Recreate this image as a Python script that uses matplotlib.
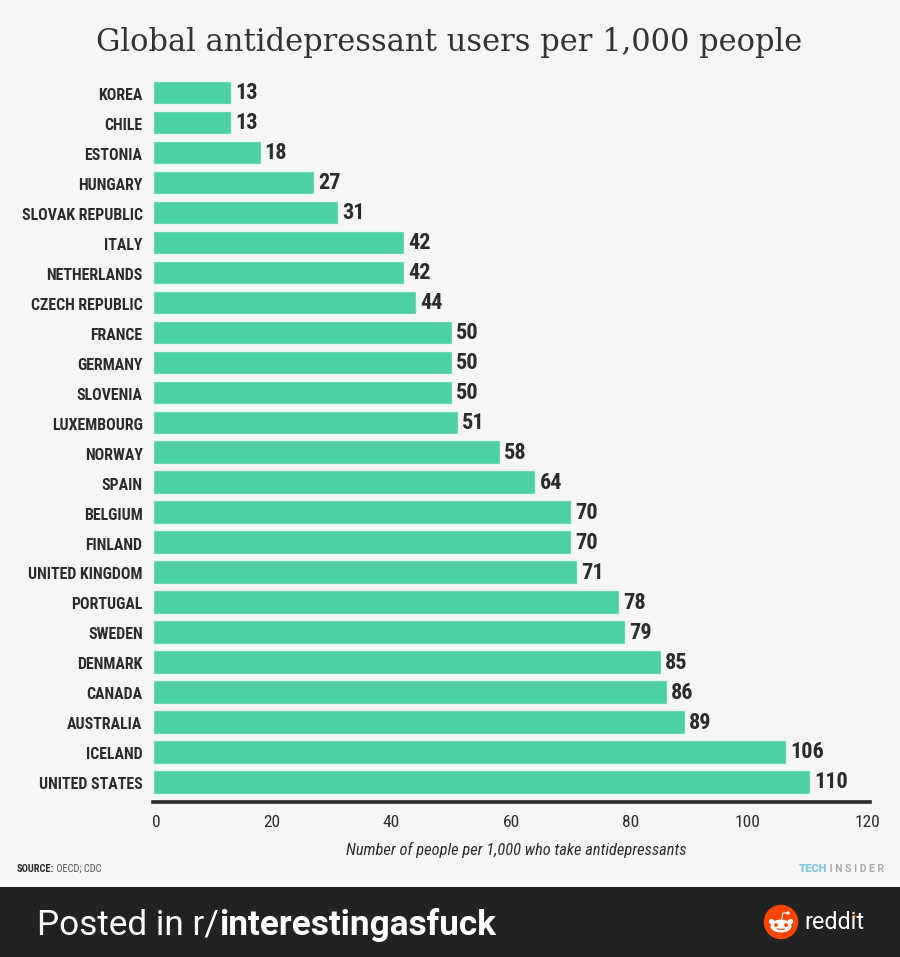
import matplotlib
matplotlib.use('Agg')
import matplotlib.pyplot as plt
from matplotlib import font_manager
from matplotlib.patches import Arc, Circle, Ellipse, Rectangle
from matplotlib.transforms import ScaledTranslation

countries = ['KOREA', 'CHILE', 'ESTONIA', 'HUNGARY', 'SLOVAK REPUBLIC', 'ITALY',
             'NETHERLANDS', 'CZECH REPUBLIC', 'FRANCE', 'GERMANY', 'SLOVENIA',
             'LUXEMBOURG', 'NORWAY', 'SPAIN', 'BELGIUM', 'FINLAND', 'UNITED KINGDOM',
             'PORTUGAL', 'SWEDEN', 'DENMARK', 'CANADA', 'AUSTRALIA', 'ICELAND',
             'UNITED STATES']
users = [13, 13, 18, 27, 31, 42, 42, 44, 50, 50, 50, 51, 58, 64, 70, 70, 71, 78,
         79, 85, 86, 89, 106, 110]
x_ticks = [0, 20, 40, 60, 80, 100, 120]

W, H = 900, 957
BG = '#f6f6f6'
BAR = '#4dd0a6'
DARK = '#2b2b2b'
BAND = '#222222'

installed = {f.name for f in font_manager.fontManager.ttflist}


def pick(*names):
    for name in names:
        if name in installed:
            return name
    return 'DejaVu Sans'


NARROW = pick('Roboto Condensed', 'Liberation Sans Narrow', 'Roboto')
SLAB = pick('Roboto Slab', 'DejaVu Serif')

fig = plt.figure(figsize=(W / 100, H / 100), dpi=100, facecolor=BG)

# pixel positions from the reference: x=0 at 153, axis end at 870, axis line at 802
ax = fig.add_axes([153 / W, 1 - 802 / H, (870 - 153) / W, (802 - 77.5) / H])
ax.set_facecolor('none')
ypos = list(range(len(countries)))
ax.barh(ypos, users, height=0.78, color=BAR, edgecolor='#e6f7f1', linewidth=1.0, zorder=2)
ax.set_xlim(0, 120)
ax.set_ylim(23.67, -0.5)

for s in ['top', 'left', 'right']:
    ax.spines[s].set_visible(False)
ax.spines['bottom'].set_linewidth(2.6)
ax.spines['bottom'].set_color(DARK)

ax.set_yticks(ypos)
ax.set_yticklabels(countries, family=NARROW, fontweight='bold', fontsize=11.4, color=DARK)
ax.tick_params(axis='y', length=0, pad=7.5)
for lab in ax.get_yticklabels():
    lab.set_transform(lab.get_transform() + ScaledTranslation(0, -1 / 72, fig.dpi_scale_trans))

ax.set_xticks(x_ticks)
ax.set_xticklabels(x_ticks, family=NARROW, fontsize=12.5, color=DARK)
ax.tick_params(axis='x', length=0, pad=9.5)
for val, lab in zip(x_ticks, ax.get_xticklabels()):
    shift = {0: 3, 100: -3, 120: -3}.get(val, -0.5)
    lab.set_transform(lab.get_transform() + ScaledTranslation(shift / 100, 0, fig.dpi_scale_trans))

for y, v in zip(ypos, users):
    ax.annotate(str(v), (v, y), xytext=(3, -0.4), textcoords='offset points', va='center',
                ha='left', family=NARROW, fontweight='bold', fontsize=16, color=DARK)

ax.set_xlabel('Number of people per 1,000 who take antidepressants', family=NARROW,
              style='italic', fontsize=11.8, color=DARK, x=0.507, labelpad=8.5)

# overlay in image pixels for the title, footer and reddit band
ov = fig.add_axes([0, 0, 1, 1], zorder=5)
ov.set_xlim(0, W)
ov.set_ylim(H, 0)
ov.axis('off')
ov.patch.set_alpha(0)

ov.text(449.5, 51, 'Global antidepressant users per 1,000 people', family=SLAB,
        fontsize=22, color='#333333', ha='center', va='baseline')

src = ov.text(17, 869, 'SOURCE:', family=NARROW, fontweight='bold', fontsize=7.5,
              color=DARK, va='center')
ov.annotate(' OECD; CDC', xy=(1, 0), xycoords=src, va='bottom', family=NARROW,
            fontsize=7.5, color='#555555')

tech = ov.text(799, 869, 'TECH', family='Roboto', fontweight='black', fontsize=8,
               color='#7fc6e2', va='center')
ov.annotate(' I N S I D E R', xy=(1, 0), xycoords=tech, va='bottom', family='Roboto',
            fontweight='bold', fontsize=7.5, color='#aaaaaa')

ov.add_patch(Rectangle((0, 887), W, H - 887, color=BAND, lw=0))
posted = ov.text(37, 925, 'Posted in r/', family='Roboto', fontsize=25.3, color='white',
                 va='center')
ov.annotate('interestingasfuck', xy=(1, 0), xycoords=posted, va='bottom', family='Roboto',
            fontweight='bold', fontsize=25.3, color='white')

# reddit logo
ov.add_patch(Circle((781, 922), 17.2, color='#ff4500', lw=0))
ov.add_patch(Ellipse((781, 926), 21, 13, color='white', lw=0))
ov.add_patch(Circle((771.5, 921.5), 2.6, color='white', lw=0))
ov.add_patch(Circle((790.5, 921.5), 2.6, color='white', lw=0))
ov.add_patch(Circle((776, 925), 1.9, color='#ff4500', lw=0))
ov.add_patch(Circle((786, 925), 1.9, color='#ff4500', lw=0))
ov.add_patch(Arc((781, 927), 9, 5, theta1=20, theta2=160, color='#ff4500', lw=0.8))
ov.add_patch(Circle((788, 913), 1.7, color='white', lw=0))
ov.plot([781.5, 783, 788], [920, 913, 913], color='white', lw=0.8)
ov.text(804, 922.5, 'reddit', family='Roboto', fontsize=16.8, color='white', va='center')
ov.add_patch(Circle((854, 916.5), 1.7, color='#ff4500', lw=0))

fig.savefig('out.png', dpi=100, facecolor=BG)
